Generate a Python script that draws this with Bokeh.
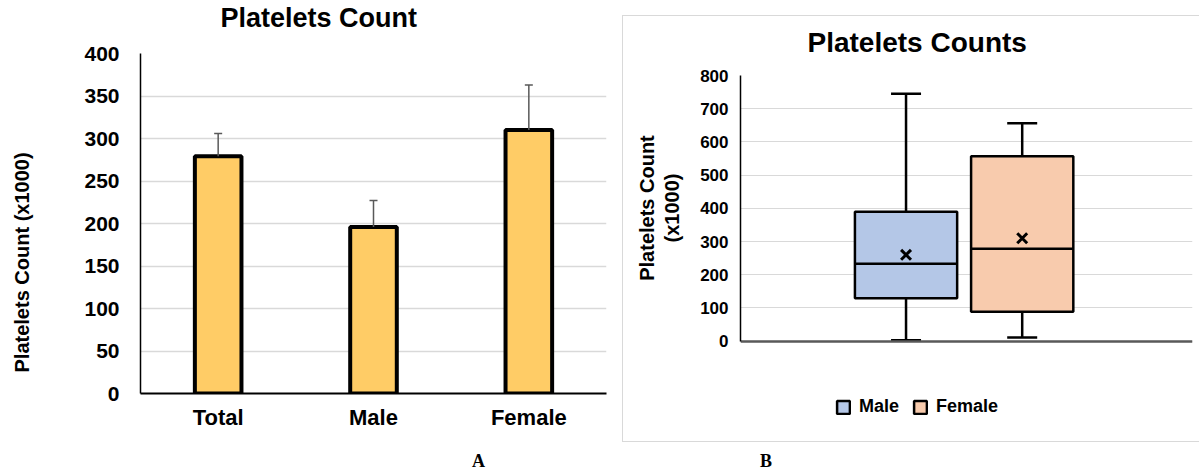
from bokeh.plotting import figure
from bokeh.models import (Range1d, FactorRange, Whisker, TeeHead, Title, Legend,
                          LegendItem, ColumnDataSource, Div, FixedTicker)
from bokeh.transform import dodge
from bokeh.embed import file_html
from bokeh.resources import INLINE

# ---------------- Panel A data ----------------
categories = ["Total", "Male", "Female"]
mean_counts = [279, 196, 310]
error_upper = [306, 227, 363]
a_ticks = [0, 50, 100, 150, 200, 250, 300, 350, 400]

# ---------------- Panel B data ----------------
groups = ["Male", "Female"]
b_min = [3, 11]
b_q1 = [129, 89]
b_median = [233, 278]
b_q3 = [390, 557]
b_max = [745, 656]
b_mean = [260, 310]
b_colors = ["#B4C7E7", "#F8CBAD"]
b_ticks = [0, 100, 200, 300, 400, 500, 600, 700, 800]

FONT = "Liberation Sans"
GRID = "#d9d9d9"

# ================= Panel A =================
pa = figure(x_range=FactorRange(*categories), y_range=Range1d(0, 400),
            width=668, height=477, output_backend="svg", toolbar_location=None,
            min_border_left=190, min_border_right=12, min_border_top=80,
            min_border_bottom=57,
            styles={"position": "absolute", "left": "-50px", "top": "-27px"})
src_a = ColumnDataSource(dict(cat=categories, mean=mean_counts, err=error_upper))
pa.vbar(x="cat", top="mean", width=0.30, source=src_a, fill_color="#FFCC66",
        line_color="black", line_width=4)
wa = Whisker(base="cat", lower="mean", upper="err", source=src_a,
             line_color="#595959", line_width=1.5,
             upper_head=TeeHead(size=8, line_color="#595959", line_width=1.5),
             lower_head=None, level="glyph")
pa.add_layout(wa)

pa.yaxis.ticker = FixedTicker(ticks=a_ticks)
for ax in (pa.xaxis, pa.yaxis):
    ax.major_tick_line_color = None
    ax.minor_tick_line_color = None
    ax.major_tick_out = 0
    ax.minor_tick_out = 0
    ax.major_label_text_font = FONT
    ax.major_label_text_font_style = "bold"
    ax.major_label_text_color = "black"
pa.yaxis.major_label_text_font_size = "21px"
pa.yaxis.major_label_standoff = 21
pa.yaxis.axis_line_color = "black"
pa.yaxis.axis_line_width = 1.5
pa.xaxis.major_label_text_font_size = "22px"
pa.xaxis.major_label_standoff = 11
pa.xaxis.axis_line_color = "black"
pa.xaxis.axis_line_width = 2
pa.xgrid.grid_line_color = None
pa.ygrid.grid_line_color = GRID
pa.ygrid.grid_line_width = 1.5
pa.outline_line_color = None

ta = Title(text="Platelets Count", align="left", offset=80, standoff=41,
           text_font=FONT, text_font_size="27px", text_font_style="bold",
           text_color="black")
pa.add_layout(ta, "above")
tya = Title(text="Platelets Count (x1000)", align="left", offset=21, standoff=97,
            text_font=FONT, text_font_size="20px", text_font_style="bold",
            text_color="black")
pa.add_layout(tya, "left")

# ================= Panel B =================
# frame spans 75px..430px; value axis 0..800 occupies 75px..341px
pb = figure(x_range=Range1d(-1.425, 2.466), y_range=Range1d(-268.9, 800),
            width=576, height=441, output_backend="svg", toolbar_location=None,
            min_border_left=117, min_border_right=7, min_border_top=75,
            min_border_bottom=11,
            styles={"position": "absolute", "left": "623px", "top": "0px"})
src_b = ColumnDataSource(dict(x=list(range(len(groups))), name=groups,
                              mn=b_min, q1=b_q1, med=b_median, q3=b_q3,
                              mx=b_max, mean=b_mean, color=b_colors))

w_up = Whisker(base="x", lower="q3", upper="mx", source=src_b,
               line_color="black", line_width=2.5,
               upper_head=TeeHead(size=30, line_color="black", line_width=2.5),
               lower_head=None, level="glyph")
w_lo = Whisker(base="x", lower="mn", upper="q1", source=src_b,
               line_color="black", line_width=2.5,
               lower_head=TeeHead(size=30, line_color="black", line_width=2.5),
               upper_head=None, level="glyph")
pb.add_layout(w_up)
pb.add_layout(w_lo)
boxes = pb.vbar(x="x", bottom="q1", top="q3", width=0.88, source=src_b,
                fill_color="color", line_color="black", line_width=2.5)
pb.segment(x0=dodge("x", -0.44), x1=dodge("x", 0.44), y0="med", y1="med",
           source=src_b, line_color="black", line_width=2.5)
pb.scatter(x="x", y="mean", marker="x", size=14, line_width=3,
           line_color="black", source=src_b)

pb.yaxis.ticker = FixedTicker(ticks=b_ticks)
pb.yaxis.bounds = (0, 800)
pb.xaxis.ticker = FixedTicker(ticks=[])
pb.xaxis.fixed_location = 0
for ax in (pb.xaxis, pb.yaxis):
    ax.major_tick_line_color = None
    ax.minor_tick_line_color = None
    ax.major_tick_out = 0
    ax.minor_tick_out = 0
    ax.major_label_text_font = FONT
    ax.major_label_text_font_style = "bold"
    ax.major_label_text_color = "black"
pb.xaxis.major_label_standoff = 0
pb.yaxis.major_label_text_font_size = "17px"
pb.yaxis.major_label_standoff = 12
pb.yaxis.axis_line_color = "black"
pb.yaxis.axis_line_width = 1.5
pb.xaxis.axis_line_color = "#595959"
pb.xaxis.axis_line_width = 2.5
pb.xgrid.grid_line_color = None
pb.ygrid.grid_line_color = GRID
pb.outline_line_color = None

tb = Title(text="Platelets Counts", align="left", offset=67, standoff=35,
           text_font=FONT, text_font_size="28px", text_font_style="bold",
           text_color="black")
pb.add_layout(tb, "above")

legend = Legend(items=[LegendItem(label=g, renderers=[boxes], index=i)
                       for i, g in enumerate(groups)],
                location=(95, 13), orientation="horizontal",
                glyph_width=16, glyph_height=16, label_standoff=8, spacing=13,
                padding=0, margin=0, border_line_alpha=0,
                background_fill_alpha=0, label_text_font=FONT,
                label_text_font_size="18px", label_text_font_style="bold",
                label_text_color="black")
pb.add_layout(legend)

# y-axis title of panel B (two centred lines, rotated)
b_ylabel = Div(
    text=('<div style="width:160px;height:50px;transform:rotate(-90deg);'
          'transform-origin:50% 50%;text-align:center;white-space:nowrap;'
          "font-family:'Liberation Sans';font-weight:bold;font-size:20px;"
          'line-height:25px;color:black;">Platelets Count<br>(x1000)</div>'),
    width=160, height=50, margin=0,
    styles={"position": "absolute", "left": "580px", "top": "183px"})

border_div = Div(
    text=('<div style="width:577px;height:427px;box-sizing:border-box;'
          'border:1px solid #d9d9d9;border-right:none;"></div>'),
    width=577, height=427, margin=0,
    styles={"position": "absolute", "left": "622px", "top": "15px"})

labels_div = Div(
    text=('<div style="position:relative;width:1199px;height:22px;'
          "font-family:'Liberation Serif';font-weight:bold;font-size:18px;color:black;\">"
          '<span style="position:absolute;left:472px;top:1px;line-height:20px;">A</span>'
          '<span style="position:absolute;left:760px;top:1px;line-height:20px;">B</span>'
          '</div>'),
    width=1199, height=22, margin=0,
    styles={"position": "absolute", "left": "0px", "top": "450px"})

open("out.html", "w").write(
    file_html([pa, pb, b_ylabel, border_div, labels_div], INLINE))
